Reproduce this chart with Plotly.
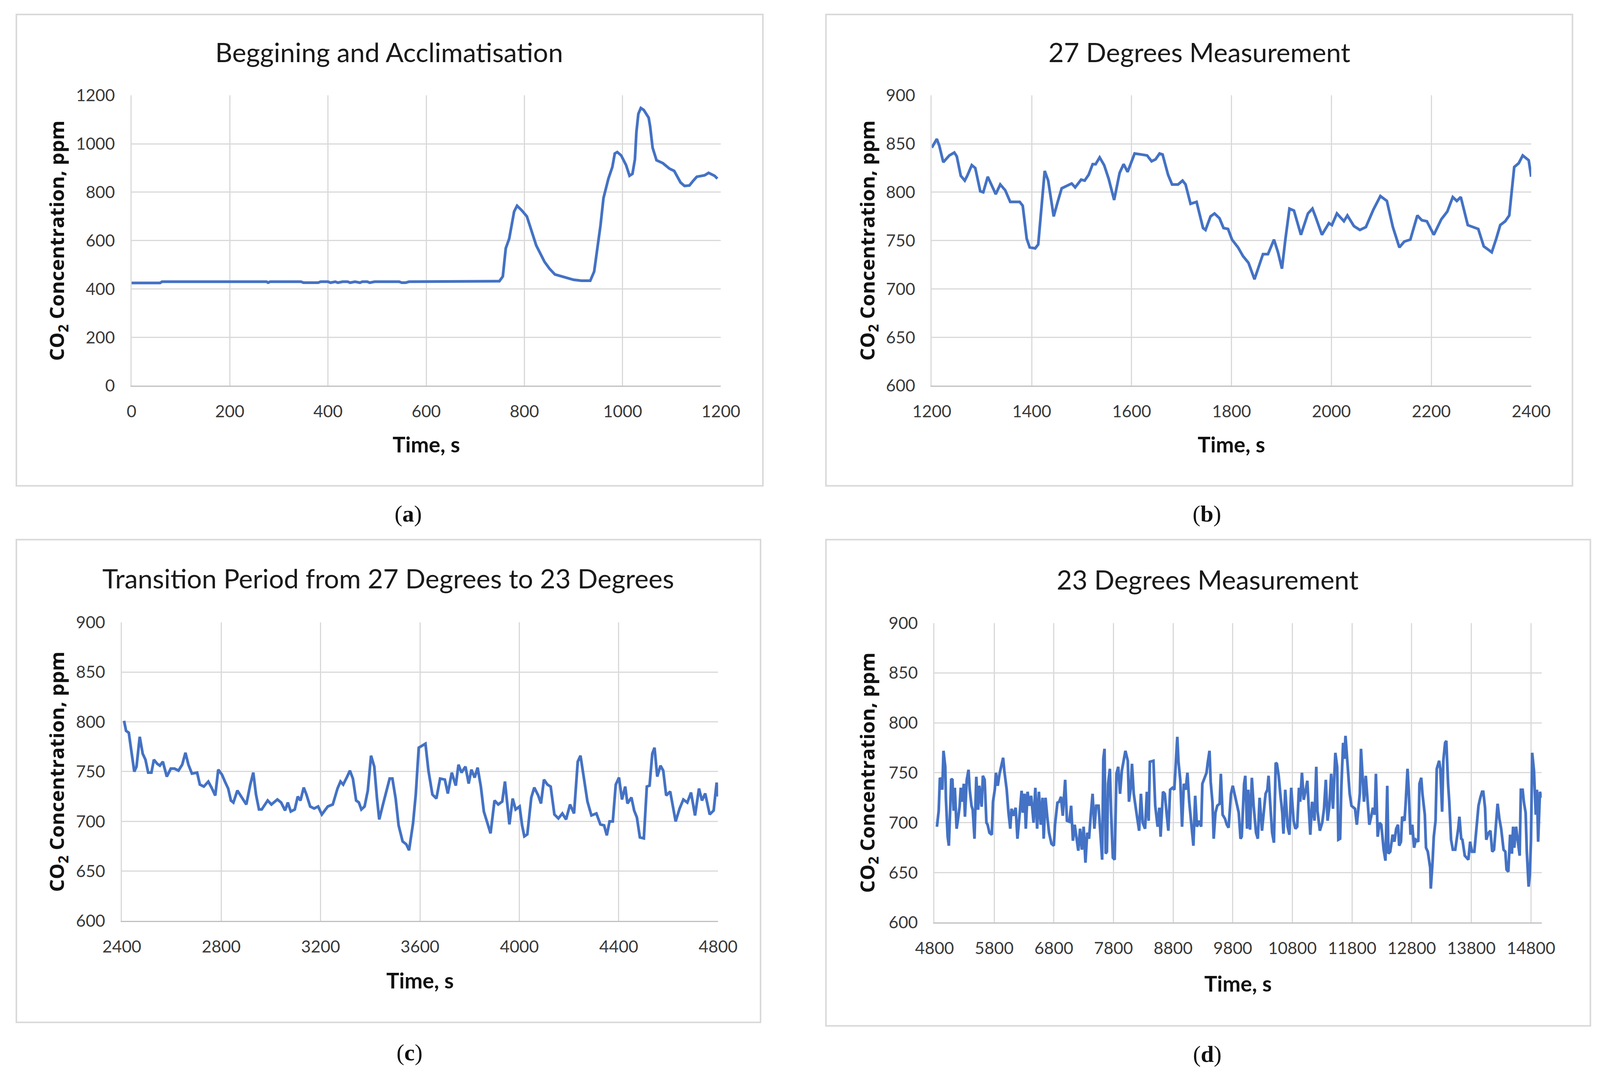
import plotly.graph_objects as go

# ---------------- data ----------------
a_t = [0, 58, 62, 275, 278, 282, 345, 350, 380, 385,
       400, 405, 415, 420, 430, 440, 445, 455, 465, 470,
       480, 485, 495, 505, 545, 550, 558, 565, 745, 749,
       756, 762, 769, 779, 785, 795, 805, 815, 824, 841,
       851, 862, 873, 886, 900, 916, 934, 942, 948, 955,
       961, 971, 979, 984, 989, 997, 1007, 1014, 1020, 1025,
       1028, 1032, 1037, 1043, 1053, 1056, 1061, 1069, 1082, 1095,
       1105, 1118, 1126, 1136, 1144, 1151, 1167, 1175, 1187, 1193]
a_v = [425, 425, 430, 430, 426, 430, 430, 426, 426, 430,
       430, 426, 430, 426, 430, 430, 426, 430, 426, 430,
       430, 426, 430, 430, 430, 426, 426, 430, 430, 432,
       452, 568, 608, 720, 744, 724, 700, 640, 580, 512,
       484, 460, 454, 444, 438, 434, 434, 472, 560, 664,
       776, 856, 904, 960, 966, 952, 912, 868, 876, 936,
       1048, 1124, 1148, 1140, 1108, 1072, 984, 932, 920, 898,
       888, 840, 826, 828, 848, 864, 870, 880, 868, 856]

b_t = [1200, 1210, 1215, 1223, 1235, 1245, 1250, 1258, 1266, 1271,
       1280, 1287, 1297, 1303, 1312, 1322, 1328, 1337, 1347, 1357,
       1376, 1382, 1390, 1396, 1407, 1413, 1426, 1433, 1444, 1452,
       1460, 1472, 1480, 1487, 1499, 1506, 1514, 1522, 1528, 1536,
       1545, 1554, 1565, 1576, 1584, 1592, 1600, 1606, 1619, 1631,
       1640, 1648, 1656, 1662, 1673, 1681, 1693, 1702, 1708, 1718,
       1730, 1735, 1743, 1748, 1758, 1766, 1776, 1784, 1793, 1801,
       1813, 1823, 1834, 1846, 1854, 1863, 1873, 1885, 1893, 1901,
       1908, 1916, 1925, 1939, 1953, 1962, 1968, 1981, 1995, 2001,
       2011, 2025, 2032, 2045, 2057, 2069, 2084, 2098, 2111, 2123,
       2136, 2146, 2158, 2172, 2181, 2191, 2205, 2220, 2232, 2243,
       2251, 2259, 2273, 2284, 2294, 2305, 2321, 2330, 2338, 2348,
       2356, 2366, 2375, 2383, 2395, 2400]
b_v = [846, 855, 848, 831, 838, 841, 837, 817, 812, 817,
       828, 825, 801, 800, 816, 804, 798, 808, 802, 790,
       790, 786, 752, 743, 742, 746, 822, 812, 775, 790,
       804, 807, 809, 805, 813, 812, 818, 829, 829, 836,
       828, 814, 792, 820, 829, 821, 832, 840, 839, 838,
       832, 834, 840, 839, 818, 808, 808, 812, 808, 788,
       790, 780, 763, 761, 775, 778, 773, 763, 762, 751,
       743, 734, 727, 710, 722, 736, 736, 751, 738, 721,
       752, 783, 781, 756, 778, 783, 775, 756, 768, 766,
       778, 770, 776, 765, 761, 764, 782, 796, 791, 764,
       743, 749, 751, 776, 771, 770, 756, 772, 780, 795,
       791, 795, 766, 764, 762, 744, 738, 752, 766, 770,
       776, 826, 830, 838, 833, 816]

c_t = [2409, 2417, 2428, 2441, 2450, 2459, 2472, 2484, 2495, 2506,
       2519, 2529, 2542, 2553, 2565, 2581, 2597, 2612, 2628, 2643,
       2656, 2668, 2682, 2703, 2714, 2730, 2748, 2761, 2776, 2788,
       2803, 2815, 2828, 2839, 2849, 2865, 2885, 2901, 2917, 2929,
       2940, 2952, 2963, 2987, 3002, 3026, 3041, 3057, 3068, 3080,
       3096, 3108, 3119, 3132, 3143, 3158, 3174, 3190, 3205, 3229,
       3249, 3268, 3280, 3291, 3307, 3318, 3330, 3343, 3354, 3364,
       3377, 3390, 3403, 3416, 3427, 3436, 3452, 3467, 3478, 3489,
       3502, 3514, 3530, 3545, 3556, 3572, 3583, 3595, 3611, 3622,
       3634, 3650, 3666, 3681, 3700, 3712, 3728, 3744, 3755, 3767,
       3783, 3796, 3807, 3820, 3832, 3845, 3857, 3873, 3884, 3900,
       3915, 3931, 3942, 3952, 3960, 3973, 3985, 4001, 4011, 4020,
       4032, 4048, 4060, 4076, 4087, 4099, 4113, 4126, 4141, 4157,
       4173, 4188, 4204, 4220, 4235, 4246, 4258, 4274, 4290, 4310,
       4326, 4341, 4352, 4363, 4376, 4388, 4401, 4413, 4426, 4435,
       4451, 4462, 4473, 4485, 4501, 4513, 4524, 4535, 4544, 4555,
       4568, 4579, 4591, 4607, 4629, 4645, 4660, 4676, 4691, 4707,
       4723, 4735, 4748, 4766, 4782, 4794, 4800]
c_v = [801, 791, 789, 766, 750, 755, 785, 768, 762, 749,
       749, 762, 758, 756, 760, 745, 753, 753, 751, 757,
       769, 757, 748, 749, 737, 735, 740, 734, 726, 752,
       747, 740, 733, 721, 719, 731, 723, 717, 737, 749,
       727, 712, 712, 721, 717, 722, 719, 711, 719, 710,
       712, 725, 721, 734, 727, 715, 713, 715, 707, 715,
       717, 733, 740, 737, 745, 751, 743, 721, 719, 712,
       715, 731, 766, 755, 723, 702, 718, 733, 743, 743,
       723, 696, 680, 677, 671, 698, 727, 774, 776, 778,
       751, 727, 723, 743, 742, 728, 749, 736, 757, 749,
       755, 738, 752, 744, 754, 735, 710, 696, 688, 721,
       717, 720, 740, 716, 697, 723, 712, 715, 696, 685,
       687, 724, 734, 726, 718, 742, 737, 735, 707, 703,
       708, 702, 717, 708, 760, 766, 747, 720, 706, 708,
       697, 696, 686, 700, 700, 737, 744, 722, 735, 718,
       724, 711, 704, 684, 683, 735, 736, 768, 774, 745,
       756, 751, 726, 730, 700, 713, 722, 719, 729, 706,
       733, 721, 728, 707, 711, 739, 725]

d_t = [4840, 4870, 4890, 4910, 4930, 4950, 4980, 4990, 5020, 5040,
       5060, 5080, 5100, 5120, 5140, 5170, 5190, 5220, 5240, 5270,
       5290, 5310, 5340, 5370, 5390, 5420, 5440, 5470, 5500, 5530,
       5550, 5590, 5610, 5640, 5670, 5690, 5720, 5760, 5780, 5810,
       5830, 5860, 5890, 5920, 5950, 5970, 6010, 6040, 6070, 6090,
       6120, 6160, 6190, 6220, 6260, 6280, 6310, 6330, 6360, 6390,
       6420, 6460, 6490, 6520, 6550, 6580, 6610, 6630, 6660, 6690,
       6720, 6760, 6800, 6820, 6860, 6890, 6920, 6950, 6990, 7020,
       7060, 7090, 7120, 7150, 7180, 7210, 7240, 7270, 7300, 7330,
       7360, 7390, 7420, 7450, 7480, 7510, 7550, 7580, 7610, 7630,
       7650, 7670, 7690, 7710, 7740, 7760, 7790, 7820, 7850, 7880,
       7910, 7940, 7970, 8000, 8040, 8060, 8090, 8110, 8140, 8170,
       8190, 8230, 8260, 8290, 8330, 8360, 8390, 8410, 8450, 8470,
       8500, 8540, 8570, 8590, 8630, 8660, 8690, 8720, 8750, 8790,
       8820, 8850, 8870, 8890, 8920, 8950, 8980, 9010, 9040, 9070,
       9100, 9140, 9170, 9200, 9240, 9270, 9290, 9320, 9360, 9380,
       9410, 9430, 9460, 9480, 9510, 9540, 9580, 9600, 9630, 9670,
       9700, 9730, 9770, 9800, 9830, 9870, 9900, 9930,
       9950, 9990, 10010, 10040, 10060, 10090, 10120, 10150, 10190, 10220,
       10250, 10290, 10320, 10350, 10380, 10400, 10430, 10460, 10490, 10520,
       10540, 10570, 10600, 10630, 10650, 10680, 10720, 10750, 10780, 10820,
       10850, 10880, 10910, 10930, 10960, 10990, 11030, 11050, 11070, 11100,
       11130, 11170, 11200, 11220, 11260, 11300, 11330, 11360, 11390, 11420,
       11450, 11480, 11500, 11520, 11550, 11570, 11600, 11620, 11650, 11670,
       11690, 11710, 11740, 11760, 11790, 11820, 11850, 11880, 11900, 11930,
       11950, 11980, 12000, 12030, 12050, 12090, 12120, 12150, 12180, 12200,
       12230, 12260, 12290, 12330, 12360, 12390, 12410, 12440, 12480, 12510,
       12540, 12570, 12590, 12620, 12640, 12680, 12700, 12730, 12750, 12780,
       12810, 12840, 12870, 12910, 12930, 12960, 12980, 13020, 13040, 13070,
       13110, 13120, 13150, 13170, 13200, 13220, 13260, 13280, 13310, 13330,
       13360, 13380, 13410, 13430, 13460, 13490, 13530, 13560, 13580, 13600,
       13630, 13650, 13690, 13720, 13750, 13780, 13810, 13850, 13870, 13890,
       13920, 13950, 13980, 14000, 14030, 14050, 14090, 14120, 14150, 14180,
       14210, 14240, 14270, 14300, 14340, 14370, 14390, 14420, 14450, 14480,
       14500, 14520, 14550, 14580, 14610, 14630, 14660, 14680, 14710, 14730,
       14760, 14780, 14800, 14820, 14850, 14880, 14900, 14920, 14950, 14975]
d_v = [696, 712, 745, 743, 733, 772, 756, 725, 686, 677,
       710, 744, 743, 712, 735, 694, 702, 716, 735, 721,
       739, 706, 743, 753, 733, 717, 713, 684, 746, 713,
       737, 716, 747, 743, 700, 698, 690, 688, 721, 733,
       750, 737, 749, 756, 765, 752, 733, 710, 694, 714,
       707, 715, 684, 704, 732, 710, 729, 694, 731, 717,
       727, 700, 735, 694, 731, 698, 725, 684, 725, 706,
       690, 679, 677, 698, 720, 721, 726, 707, 743, 702,
       701, 717, 682, 698, 686, 672, 694, 673, 696, 660,
       690, 684, 708, 729, 694, 717, 717, 692, 663, 764,
       774, 669, 671, 739, 754, 710, 665, 663, 749, 756,
       729, 752, 764, 772, 762, 721, 735, 759, 729, 714,
       708, 692, 729, 700, 694, 731, 702, 761, 762, 762,
       717, 696, 715, 686, 731, 729, 710, 692, 733, 735,
       733, 762, 786, 761, 743, 696, 739, 733, 750, 721,
       704, 677, 727, 696, 702, 696, 739, 743, 750, 760,
       772, 741, 720, 684, 710, 717, 719, 749, 708, 704,
       698, 695, 729, 737, 729, 717, 710, 684,
       686, 739, 747, 694, 733, 693, 745, 717, 690, 684,
       725, 692, 714, 729, 733, 747, 717, 690, 680, 760,
       759, 747, 727, 710, 689, 733, 696, 688, 735, 702,
       694, 696, 735, 721, 750, 723, 735, 742, 719, 688,
       721, 702, 756, 712, 692, 700, 714, 743, 702, 717,
       749, 714, 743, 770, 756, 683, 684, 735, 780, 764,
       787, 770, 752, 729, 717, 715, 714, 698, 714, 729,
       774, 741, 721, 747, 731, 698, 706, 715, 708, 749,
       686, 700, 698, 673, 662, 737, 669, 671, 688, 681,
       694, 698, 677, 681, 706, 702, 721, 754, 733, 688,
       698, 675, 683, 681, 739, 745, 729, 708, 675, 671,
       655, 634, 661, 686, 702, 754, 762, 754, 711, 762,
       780, 782, 739, 721, 683, 673, 673, 684, 694, 706,
       684, 683, 667, 665, 663, 681, 671, 671, 686, 698,
       717, 725, 731, 731, 715, 683, 690, 692, 671, 673,
       696, 719, 704, 694, 673, 671, 653, 651, 688, 669,
       696, 675, 696, 683, 667, 733, 733, 721, 710, 671,
       636, 648, 683, 770, 752, 708, 733, 681, 731, 725]

titles = ["Beggining and Acclimatisation", "27 Degrees Measurement",
          "Transition Period from 27 Degrees to 23 Degrees", "23 Degrees Measurement"]
captions = ["a", "b", "c", "d"]
x_title = "Time, s"
y_title = "CO<sub>2</sub> Concentration, ppm"

x_ranges = [[0, 1200], [1200, 2400], [2400, 4800], [4800, 14980]]
x_ticks = [list(range(0, 1201, 200)), list(range(1200, 2401, 200)),
           list(range(2400, 4801, 400)), list(range(4800, 14801, 1000))]
y_ranges = [[0, 1200], [600, 900], [600, 900], [600, 900]]
y_ticks = [list(range(0, 1201, 200)), list(range(600, 901, 50)),
           list(range(600, 901, 50)), list(range(600, 901, 50))]

series = [(a_t, a_v), (b_t, b_v), (c_t, c_v), (d_t, d_v)]

# ---------------- layout geometry (target pixels in the picture) ----------------
W, H = 4112, 2772
OFF = 8          # page body margin
SX, SY = 1.0036, 1.0028   # slight screenshot scaling observed
plots = [(338, 1852, 245, 990), (2394, 3934, 245, 990),
         (313, 1845, 1597, 2364), (2401, 3961, 1599, 2368)]
boxes = [(42, 1960, 37, 1247), (2122, 4040, 37, 1247),
         (42, 1954, 1385, 2624), (2122, 4086, 1385, 2633)]
title_pos = [(1000, 133), (3082, 133), (998, 1484), (3103, 1487)]
xt_pos = [(1095, 1140), (3164, 1140), (1079, 2516), (3181, 2524)]
yt_pos = [(148, 617), (2230, 617), (148, 1980), (2230, 1983)]
cap_pos = [(1049, 1319), (3101, 1319), (1052, 2702), (3102, 2706)]


def px(x):
    return (x - OFF) / SX / W


def py(y):
    return 1 - (y - OFF) / SY / H


LINE = "#4472C4"
GRID = "#D9D9D9"
TICKC = "#3a3a3a"
TICKFONT = dict(family="Lato", size=43, color=TICKC)

fig = go.Figure()
layout = dict(width=W, height=H, margin=dict(l=0, r=0, t=0, b=0, autoexpand=False),
              paper_bgcolor="white", plot_bgcolor="white", showlegend=False)
annotations = []
shapes = []

for i in range(4):
    sfx = "" if i == 0 else str(i + 1)
    t, v = series[i]
    fig.add_trace(go.Scatter(x=t, y=v, mode="lines",
                             line=dict(color=LINE, width=7),
                             xaxis="x" + sfx, yaxis="y" + sfx))
    x0, x1, y0, y1 = plots[i]
    layout["xaxis" + sfx] = dict(
        domain=[px(x0), px(x1)], range=x_ranges[i], tickvals=x_ticks[i],
        ticktext=[str(k) for k in x_ticks[i]], automargin=False,
        anchor="y" + sfx, showgrid=True, gridcolor=GRID, gridwidth=3,
        showline=True, linecolor="#BFBFBF", linewidth=3, zeroline=False,
        ticks="", tickfont=TICKFONT, ticklabelstandoff=26)
    layout["yaxis" + sfx] = dict(
        domain=[py(y1), py(y0)], range=y_ranges[i], tickvals=y_ticks[i],
        ticktext=[str(k) for k in y_ticks[i]], automargin=False,
        anchor="x" + sfx, showgrid=True, gridcolor=GRID, gridwidth=3,
        showline=True, linecolor=GRID, linewidth=3, zeroline=False,
        ticks="", tickfont=TICKFONT, ticklabelstandoff=31)

    bx0, bx1, by0, by1 = boxes[i]
    shapes.append(dict(type="rect", xref="paper", yref="paper",
                       x0=px(bx0), x1=px(bx1), y0=py(by1), y1=py(by0),
                       line=dict(color=GRID, width=4), layer="below"))

    tx, ty = title_pos[i]
    annotations.append(dict(text=titles[i], x=px(tx), y=py(ty), xref="paper", yref="paper",
                            xanchor="center", yanchor="middle", showarrow=False,
                            font=dict(family="Lato", size=68, color="#1a1a1a")))
    ax_, ay_ = xt_pos[i]
    annotations.append(dict(text="<b>" + x_title + "</b>", x=px(ax_), y=py(ay_),
                            xref="paper", yref="paper", xanchor="center", yanchor="middle",
                            showarrow=False, font=dict(family="Lato", size=55, color="#111111")))
    bx_, by_ = yt_pos[i]
    annotations.append(dict(text="<b>" + y_title + "</b>", x=px(bx_), y=py(by_),
                            xref="paper", yref="paper", xanchor="center", yanchor="middle",
                            textangle=-90, showarrow=False,
                            font=dict(family="Open Sans", size=51, color="#111111")))
    cx_, cy_ = cap_pos[i]
    annotations.append(dict(text="(<b>" + captions[i] + "</b>)", x=px(cx_), y=py(cy_),
                            xref="paper", yref="paper", xanchor="center", yanchor="middle",
                            showarrow=False,
                            font=dict(family="Liberation Serif", size=60, color="#111111")))

layout["annotations"] = annotations
layout["shapes"] = shapes
fig.update_layout(**layout)
fig.write_html("out.html")
